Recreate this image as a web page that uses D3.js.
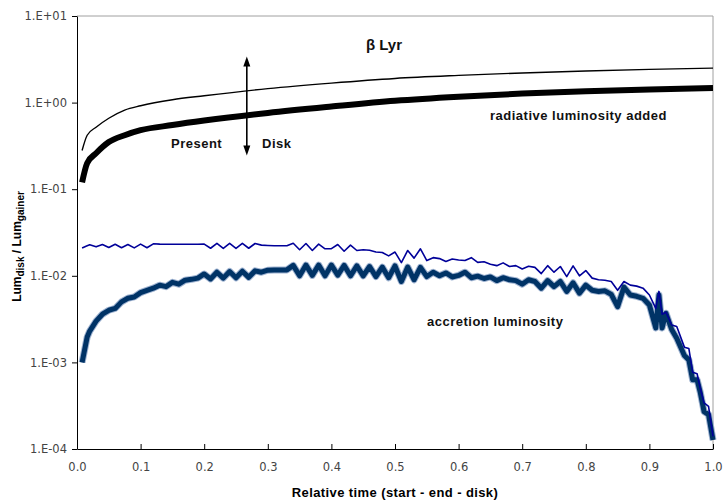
<!DOCTYPE html>
<html>
<head>
<meta charset="utf-8">
<script src="https://cdn.jsdelivr.net/npm/d3@7"></script>
<style>
  body { margin: 0; background: #fff; }
  svg { display: block; }
</style>
</head>
<body>
<svg id="chart" width="723" height="502"></svg>
<script>
// ---- data ----
const upperX = [0.008, 0.016, 0.03, 0.05, 0.075, 0.1, 0.15, 0.2, 0.3, 0.4, 0.5, 0.6, 0.7, 0.8, 0.9, 1.0];
const totalThin = [0.28, 0.42, 0.52, 0.66, 0.82, 0.92, 1.08, 1.2, 1.45, 1.68, 1.9, 2.06, 2.2, 2.32, 2.42, 2.5];
const totalThick = [0.12, 0.20, 0.26, 0.35, 0.42, 0.48, 0.55, 0.62, 0.76, 0.90, 1.05, 1.17, 1.27, 1.35, 1.42, 1.47];

const blueX = [0.008, 0.016, 0.02, 0.03, 0.04, 0.05, 0.06, 0.07, 0.08, 0.09, 0.10,
  0.11, 0.12, 0.13, 0.14, 0.15, 0.16, 0.17, 0.18, 0.19, 0.20,
  0.21, 0.22, 0.23, 0.24, 0.25, 0.26, 0.27, 0.28, 0.29, 0.30,
  0.31, 0.32, 0.33, 0.34, 0.35, 0.36, 0.37, 0.38, 0.39, 0.40,
  0.41, 0.42, 0.43, 0.44, 0.45, 0.46, 0.47, 0.48, 0.49, 0.50,
  0.51, 0.52, 0.53, 0.54, 0.55, 0.56, 0.57, 0.58, 0.59, 0.60,
  0.61, 0.62, 0.63, 0.64, 0.65, 0.66, 0.67, 0.68, 0.69, 0.70,
  0.71, 0.72, 0.73, 0.74, 0.75, 0.76, 0.77, 0.78, 0.79, 0.80,
  0.81, 0.82, 0.83, 0.84, 0.85, 0.86, 0.87, 0.88, 0.89, 0.90,
  0.91, 0.915, 0.92, 0.926, 0.935, 0.943, 0.955, 0.962, 0.968, 0.975, 0.98, 0.986, 0.993, 1.0];

const accThin = [0.0209, 0.0222, 0.0228, 0.0216, 0.0230, 0.0212, 0.0231, 0.0211, 0.0230, 0.0210, 0.0232,
  0.0211, 0.0234, 0.0232, 0.0231, 0.0231, 0.0231, 0.0231, 0.0231, 0.0231, 0.0232,
  0.0208, 0.0237, 0.0207, 0.0237, 0.0207, 0.0237, 0.0208, 0.0236, 0.0226, 0.0224,
  0.0222, 0.0222, 0.0222, 0.0238, 0.0200, 0.0236, 0.0196, 0.0232, 0.0205, 0.0206,
  0.0230, 0.0192, 0.0226, 0.0196, 0.0200, 0.0197, 0.0188, 0.0186, 0.0170, 0.0188,
  0.0142, 0.0196, 0.0160, 0.0205, 0.0150, 0.0162, 0.0158, 0.0146, 0.0156, 0.0152,
  0.0150, 0.0162, 0.0143, 0.0145, 0.0136, 0.0131, 0.0141, 0.0128, 0.0131, 0.0120,
  0.0129, 0.0125, 0.0106, 0.0131, 0.0110, 0.0128, 0.0098, 0.0130, 0.0100, 0.0115,
  0.0094, 0.0090, 0.0089, 0.0086, 0.0068, 0.0086, 0.0078, 0.0076, 0.0072, 0.0060,
  0.0042, 0.0066, 0.0036, 0.0038, 0.0027, 0.0026, 0.0015, 0.00145, 0.00077, 0.00074, 0.00050, 0.00034, 0.00031, 0.00014];

const accThick = [0.00100, 0.00196, 0.0023, 0.0030, 0.0036, 0.0040, 0.0042, 0.0050, 0.0055, 0.0057, 0.0064,
  0.0068, 0.0072, 0.0078, 0.0075, 0.0084, 0.0080, 0.0089, 0.0091, 0.0094, 0.0105,
  0.0092, 0.0110, 0.0094, 0.0112, 0.0095, 0.0113, 0.0096, 0.0114, 0.0110, 0.0116,
  0.0117, 0.0117, 0.0117, 0.0132, 0.0100, 0.0133, 0.0101, 0.0133, 0.0100, 0.0133,
  0.0102, 0.0132, 0.0100, 0.0130, 0.0100, 0.0128, 0.0098, 0.0126, 0.0095, 0.0130,
  0.0086, 0.0126, 0.0090, 0.0125, 0.0098, 0.0110, 0.0100, 0.0108, 0.0097, 0.0101,
  0.0110, 0.0095, 0.0099, 0.0093, 0.0097, 0.0088, 0.0095, 0.0090, 0.0088, 0.0080,
  0.0090, 0.0086, 0.0072, 0.0088, 0.0075, 0.0086, 0.0066, 0.0083, 0.0063, 0.0078,
  0.0068, 0.0066, 0.0067, 0.0061, 0.0044, 0.0074, 0.0060, 0.0058, 0.0055, 0.0046,
  0.0025, 0.0060, 0.0025, 0.0037, 0.0024, 0.0019, 0.0012, 0.00107, 0.00063, 0.00063, 0.00045, 0.00027, 0.00025, 0.000127];

const xTicks = [0, 0.1, 0.2, 0.3, 0.4, 0.5, 0.6, 0.7, 0.8, 0.9, 1.0];
const yTicks = [1e-4, 1e-3, 1e-2, 1e-1, 1e0, 1e1];
const yTickLabels = ["1.E-04", "1.E-03", "1.E-02", "1.E-01", "1.E+00", "1.E+01"];

const arrowX = 0.267;
const arrowY = [3.4, 0.245];

// ---- layout ----
const svg = d3.select("#chart");
const m = { left: 77, top: 16, right: 10, bottom: 53 };
const W = 723, H = 502;
const iw = W - m.left - m.right, ih = H - m.top - m.bottom;
const g = svg.append("g").attr("transform", `translate(${m.left},${m.top})`);

const x = d3.scaleLinear().domain([0, 1]).range([0, iw]);
const y = d3.scaleLog().domain([1e-4, 1e1]).range([ih, 0]);

// frame: top and right gray
g.append("line").attr("x1", 0).attr("x2", iw).attr("y1", 0).attr("y2", 0)
  .attr("stroke", "#a0a0a0").attr("stroke-width", 1);
g.append("line").attr("x1", iw).attr("x2", iw).attr("y1", 0).attr("y2", ih)
  .attr("stroke", "#a0a0a0").attr("stroke-width", 1);

// axes
const xAxis = d3.axisBottom(x).tickValues(xTicks).tickFormat(d3.format(".1f")).tickSizeInner(-5).tickSizeOuter(0).tickPadding(14);
const gx = g.append("g").attr("transform", `translate(0,${ih})`).call(xAxis);
gx.selectAll("text").attr("font-family", "DejaVu Sans").attr("font-size", 11.5).attr("fill", "#444");
gx.select(".domain").attr("stroke", "#000");
gx.selectAll(".tick line").attr("stroke", "#000");

const yAxis = d3.axisLeft(y).tickValues(yTicks).tickFormat((d, i) => yTickLabels[i]).tickSizeInner(5).tickSizeOuter(0).tickPadding(5);
const gy = g.append("g").call(yAxis);
gy.selectAll("text").attr("font-family", "DejaVu Sans").attr("font-size", 11.5).attr("fill", "#444");
gy.select(".domain").attr("stroke", "#000");
gy.selectAll(".tick line").attr("stroke", "#000");

// lines
const line = (xs) => d3.line().x((d, i) => x(xs[i])).y(d => y(d));

g.append("path").attr("d", line(upperX).curve(d3.curveMonotoneX)(totalThin))
  .attr("fill", "none").attr("stroke", "#000").attr("stroke-width", 1.4);
g.append("path").attr("d", line(upperX).curve(d3.curveMonotoneX)(totalThick))
  .attr("fill", "none").attr("stroke", "#000").attr("stroke-width", 6);

g.append("path").attr("d", line(blueX)(accThick))
  .attr("fill", "none").attr("stroke", "#9fb3d1").attr("stroke-width", 7).attr("stroke-linejoin", "round");
g.append("path").attr("d", line(blueX)(accThick))
  .attr("fill", "none").attr("stroke", "#003366").attr("stroke-width", 5).attr("stroke-linejoin", "round");
g.append("path").attr("d", line(blueX)(accThin))
  .attr("fill", "none").attr("stroke", "#000099").attr("stroke-width", 1.6).attr("stroke-linejoin", "round");

// double arrow
const ax = x(arrowX), ay1 = y(arrowY[0]), ay2 = y(arrowY[1]);
g.append("line").attr("x1", ax).attr("x2", ax).attr("y1", ay1 + 8).attr("y2", ay2 - 8)
  .attr("stroke", "#000").attr("stroke-width", 1.6);
g.append("path").attr("d", `M${ax},${ay1} L${ax - 3.5},${ay1 + 10} L${ax + 3.5},${ay1 + 10} Z`).attr("fill", "#000");
g.append("path").attr("d", `M${ax},${ay2} L${ax - 3.5},${ay2 - 10} L${ax + 3.5},${ay2 - 10} Z`).attr("fill", "#000");

// annotations
const ann = (txt, px, py, size, anchor, ls) => svg.append("text").attr("x", px).attr("y", py)
  .attr("font-family", "Liberation Sans, Arial, sans-serif").attr("font-weight", "bold")
  .attr("font-size", size).attr("letter-spacing", ls || 0)
  .attr("text-anchor", anchor || "start").attr("fill", "#111").text(txt);

ann("β Lyr", 384, 50, 15, "middle");
ann("Present", 171, 148, 13, "start", 0.5);
ann("Disk", 262, 148, 13, "start", 0.5);
ann("radiative luminosity added", 490, 120, 13, "start", 0.5);
ann("accretion luminosity", 427, 326, 13, "start", 0.5);

// x label
svg.append("text").attr("x", m.left + iw / 2).attr("y", 497)
  .attr("text-anchor", "middle").attr("font-family", "Liberation Sans, Arial, sans-serif")
  .attr("font-weight", "bold").attr("font-size", 13).attr("letter-spacing", 0.4).attr("fill", "#000")
  .text("Relative time (start - end - disk)");

// y label with subscripts
const yl = svg.append("text").attr("transform", `translate(21,${m.top + ih / 2 + 14}) rotate(-90)`)
  .attr("text-anchor", "middle").attr("font-family", "Liberation Sans, Arial, sans-serif")
  .attr("font-weight", "bold").attr("font-size", 12).attr("fill", "#000");
yl.append("tspan").text("Lum");
yl.append("tspan").attr("font-size", 10).attr("dy", 3).text("disk");
yl.append("tspan").attr("dy", -3).text(" / Lum");
yl.append("tspan").attr("font-size", 10).attr("dy", 3).text("gainer");
</script>
</body>
</html>
